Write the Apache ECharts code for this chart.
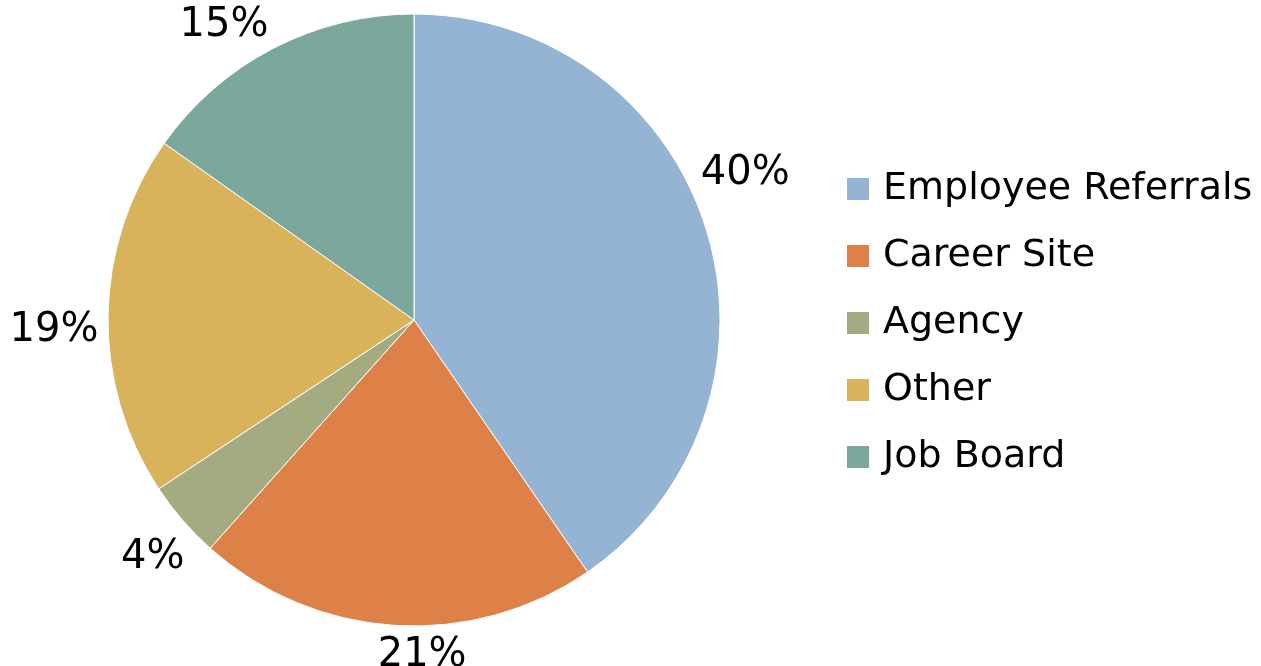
<!DOCTYPE html>
<html>
<head>
<meta charset="utf-8">
<script src="https://cdn.jsdelivr.net/npm/echarts@6/dist/echarts.min.js"></script>
<style>
  html, body { margin: 0; padding: 0; background: #fff; }
  #chart { width: 1261px; height: 666px; }
</style>
</head>
<body>
<div id="chart"></div>
<script>
// sources of hire, share of total
const categories = ['Employee Referrals', 'Career Site', 'Agency', 'Other', 'Job Board'];
const shares = [40.4, 21.2, 4.1, 19.1, 15.2];
const colors = ['#95b3d3', '#de8148', '#a5ab80', '#d9b25c', '#7ba79c'];

const fontFamily = '"DejaVu Sans", sans-serif';
const center = [414, 320];

// small nudges so the % labels sit where the original (best fit) put them
const labelNudge = {
    'Employee Referrals': [-1, -43],
    'Career Site': [30, -12],
    'Agency': [2, 10],
    'Other': [-12, 16],
    'Job Board': [-30, 15]
};

const pieData = categories.map((name, i) => ({
    name: name,
    value: shares[i],
    itemStyle: { color: colors[i] }
}));

const labelData = categories.map((name, i) => ({
    name: name,
    value: shares[i],
    label: { offset: labelNudge[name] }
}));

const option = {
    animation: false,
    legend: {
        orient: 'vertical',
        left: 840,
        top: 164,
        itemWidth: 24,
        itemHeight: 24,
        itemGap: 27,
        icon: 'rect',
        data: categories,
        textStyle: {
            fontFamily: fontFamily,
            fontSize: 38,
            lineHeight: 40,
            color: '#000',
            padding: [0, 0, 0, 8]
        }
    },
    series: [
        {
            name: 'Source',
            type: 'pie',
            center: center,
            radius: 306,
            startAngle: 90,
            clockwise: true,
            data: pieData,
            itemStyle: { borderColor: '#fff', borderWidth: 1 },
            label: { show: false },
            labelLine: { show: false }
        },
        {
            // transparent ring used only to place percentage labels just outside the pie
            name: 'labels',
            type: 'pie',
            center: center,
            radius: [306, 384],
            startAngle: 90,
            clockwise: true,
            silent: true,
            data: labelData,
            itemStyle: { color: 'rgba(0,0,0,0)' },
            label: {
                show: true,
                position: 'inside',
                formatter: p => Math.round(p.value) + '%',
                fontFamily: fontFamily,
                fontSize: 40,
                color: '#000'
            },
            labelLine: { show: false },
            emphasis: { disabled: true }
        }
    ]
};

const myChart = echarts.init(document.getElementById('chart'));
myChart.setOption(option);
</script>
</body>
</html>
